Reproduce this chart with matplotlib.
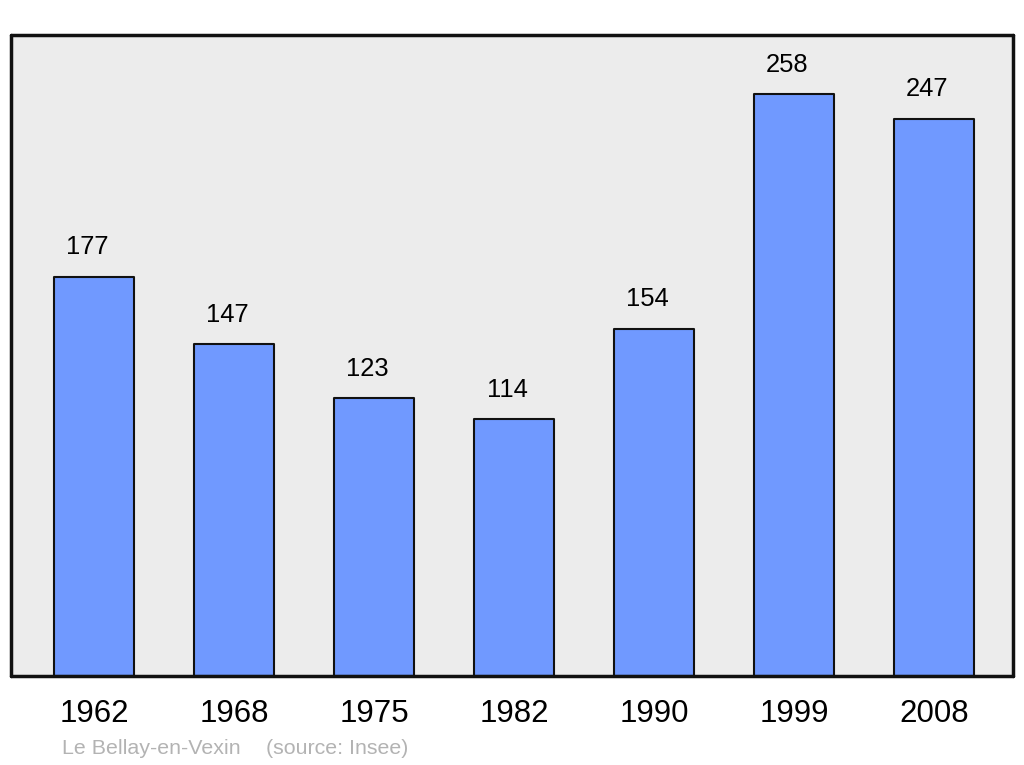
import matplotlib.pyplot as plt
import numpy as np

years = ['1962', '1968', '1975', '1982', '1990', '1999', '2008']
population = [177, 147, 123, 114, 154, 258, 247]

plt.rcParams['font.family'] = ['Liberation Sans', 'DejaVu Sans']

fig = plt.figure(figsize=(10.24, 7.65), dpi=100)
ax = fig.add_axes([11 / 1024, 89 / 765, 1002 / 1024, 641 / 765])
ax.set_facecolor('#ececec')

x = np.arange(len(years))
bars = ax.bar(x, population, width=0.575, color='#7099ff', edgecolor='#111111',
              linewidth=1.5, joinstyle='round', zorder=2)

for xi, v in zip(x, population):
    ax.annotate(str(v), (xi, v), xytext=(-4.8, 16), textcoords='offset points',
                ha='center', va='baseline', fontsize=18.4, color='black')

ax.set_xlim(-0.593, 6.564)
ax.set_ylim(0, 284.1)
ax.set_xticks(x)
ax.set_xticklabels(years, fontsize=22.5)
ax.tick_params(axis='x', length=0, pad=16.5)
ax.set_yticks([])
for s in ax.spines.values():
    s.set_linewidth(2.5)
    s.set_color('#111111')
    s.set_capstyle('round')

fig.text(62 / 1024, 1 - 754 / 765, 'Le Bellay-en-Vexin', fontsize=15.4, color='#b3b3b3')
fig.text(266 / 1024, 1 - 754 / 765, '(source: Insee)', fontsize=15.4, color='#b3b3b3')

fig.savefig('out.png', dpi=100)
